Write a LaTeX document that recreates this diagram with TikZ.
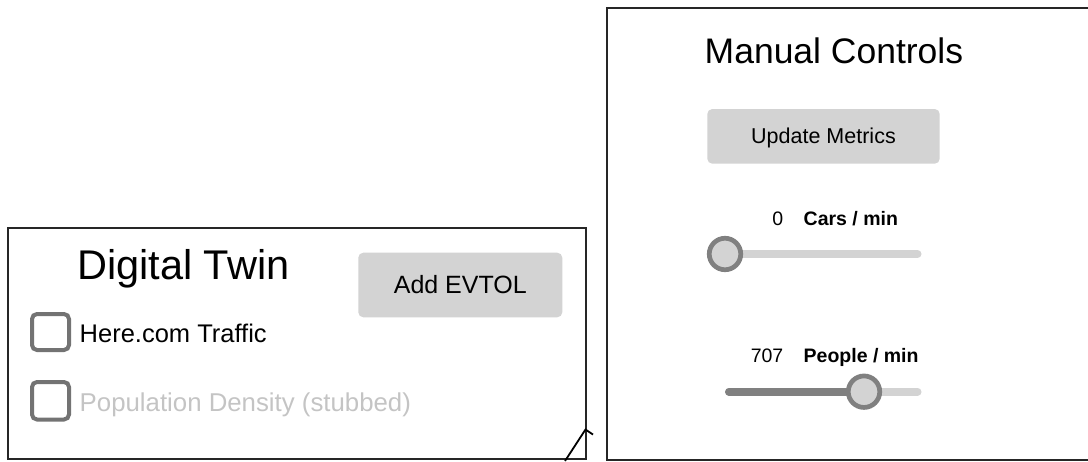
\documentclass[tikz,border=0pt]{standalone}
\usepackage{fontspec}
\setmainfont{Liberation Sans}
\begin{document}
\begin{tikzpicture}[x=1pt,y=-1pt,
  panel/.style={draw=black!85,line width=2pt},
  button/.style={fill=btngray,rounded corners=5pt},
  checkbox/.style={draw=boxgray,line width=4pt,rounded corners=5pt},
  txt/.style={inner sep=0pt,text=black},
  track/.style={line width=8pt,line cap=round,draw=btngray},
  filled/.style={line width=8pt,line cap=round,draw=knobgray},
  knob/.style={circle,fill=btngray,draw=knobgray,line width=4.7pt,minimum size=31.5pt,inner sep=0pt}]
\definecolor{btngray}{HTML}{D3D3D3}
\definecolor{boxgray}{HTML}{737373}
\definecolor{knobgray}{HTML}{808080}
\definecolor{stubgray}{HTML}{C4C4C4}
\useasboundingbox (0,0) rectangle (1088,461);

% Digital Twin panel
\draw[panel] (8.3,227.7) rectangle (586,458.5);
\node[txt,anchor=base west,font=\fontsize{41.5}{50}\selectfont] (dttitle) at (77,279.5) {Digital Twin};
\fill[button] (358.3,252.7) rectangle (562.3,317.3);
\node[txt,anchor=base,font=\fontsize{25}{30}\selectfont] (addevtol) at (460.3,293.5) {Add EVTOL};
\draw[checkbox] (32,314) rectangle (69,350);
\node[txt,anchor=base west,font=\fontsize{25.5}{30}\selectfont] (traffic) at (79.5,342) {Here.com Traffic};
\draw[checkbox] (32,382) rectangle (69,419.5);
\node[txt,anchor=base west,text=stubgray,font=\fontsize{25.8}{30}\selectfont] (popdens) at (79.5,411) {Population Density (stubbed)};

% resize grip in the corner
\coordinate (g1) at (565,461);
\coordinate (g2) at (585.5,429.5);
\coordinate (g3) at (593,434.5);
\draw[line width=1.8pt,black] (g1) -- (g2) -- (g3);

% Manual Controls panel
\draw[panel] (1100,8.3) -- (606.7,8.3) -- (606.7,459.5) -- (1100,459.5);
\node[txt,anchor=base west,font=\fontsize{35.5}{42}\selectfont] (mctitle) at (704.5,63.3) {Manual Controls};
\fill[button] (707.3,109) rectangle (939.7,163.7);
\node[txt,anchor=base,font=\fontsize{21.5}{26}\selectfont] (update) at (823.5,143.3) {Update Metrics};

% Cars slider
\node[txt,anchor=base east,font=\fontsize{19.5}{24}\selectfont] (carsval) at (783.5,225) {0};
\node[txt,anchor=base west,font=\bfseries\fontsize{19.5}{24}\selectfont] (carslbl) at (803.5,225) {Cars / min};
\coordinate (c0) at (725,254);
\coordinate (c1) at (917.5,254);
\draw[track] (c0) -- (c1);
\node[knob] (carsknob) at (c0) {};

% People slider
\node[txt,anchor=base east,font=\fontsize{19.5}{24}\selectfont] (pplval) at (783.5,362.7) {707};
\node[txt,anchor=base west,font=\bfseries\fontsize{19.5}{24}\selectfont] (ppllbl) at (803.5,362.7) {People / min};
\coordinate (p0) at (729,391.7);
\coordinate (p1) at (917.5,391.7);
\coordinate (pk) at (864,391.7);
\draw[track] (p0) -- (p1);
\draw[filled] (p0) -- (pk);
\node[knob] (pplknob) at (pk) {};
\end{tikzpicture}
\end{document}
